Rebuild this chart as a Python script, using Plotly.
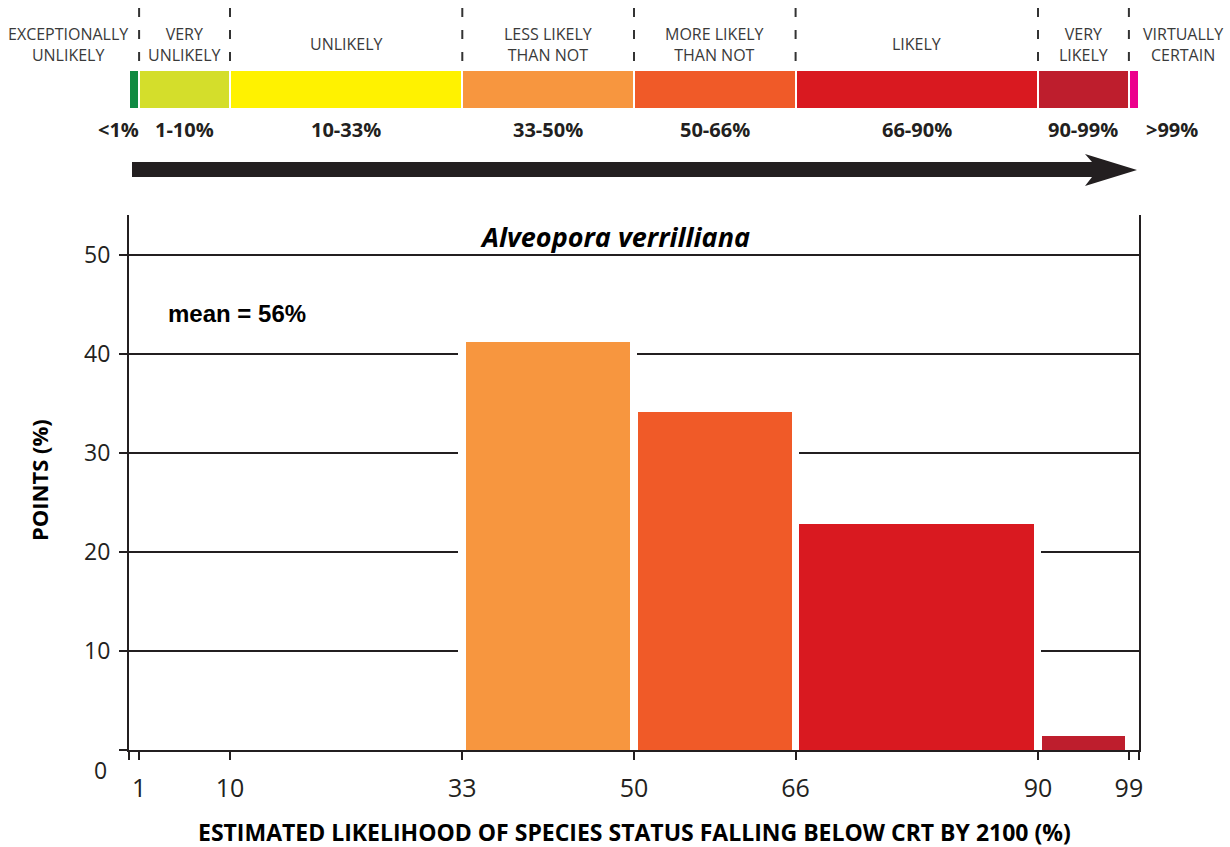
import plotly.graph_objects as go

W, H = 1230, 847

# Likelihood bins (%), their calibrated-language names and colours
bin_edges = [0, 1, 10, 33, 50, 66, 90, 99, 100]
bin_names = ["EXCEPTIONALLY<br>UNLIKELY", "VERY<br>UNLIKELY", "UNLIKELY",
             "LESS LIKELY<br>THAN NOT", "MORE LIKELY<br>THAN NOT", "LIKELY",
             "VERY<br>LIKELY", "VIRTUALLY<br>CERTAIN"]
bin_ranges = ["<1%", "1-10%", "10-33%", "33-50%", "50-66%", "66-90%", "90-99%", ">99%"]
bin_colors = ["#0f8a43", "#d4de2b", "#fff200", "#f7963f",
              "#f05a28", "#d91920", "#be1e2d", "#ec008c"]

# Share of expert points allotted to each bin (%)
points_pct = [0, 0, 0, 41.2, 34.1, 22.8, 1.4, 0]

x_ticks = [1, 10, 33, 50, 66, 90, 99]
y_ticks = [10, 20, 30, 40, 50]
species = "Alveopora verrilliana"
mean_label = "mean = 56%"
x_title = "ESTIMATED LIKELIHOOD OF SPECIES STATUS FALLING BELOW CRT BY 2100 (%)"
y_title = "POINTS (%)"

# ---- page geometry (pixels) ----
PLOT_L, PLOT_R = 129, 1139
Y0_PX, YTOP_PX = 750, 215
Y_MAX = 54
BAR_GAP = 0.7          # visible white gap between neighbouring bars (x units)


def px_to_paper_x(px):
    return (px - PLOT_L) / (PLOT_R - PLOT_L)


def px_to_x(px):
    return px_to_paper_x(px) * 100


def py_to_paper(py):
    return (H - py) / H


widths = [b - a for a, b in zip(bin_edges[:-1], bin_edges[1:])]
mids = [(a + b) / 2 for a, b in zip(bin_edges[:-1], bin_edges[1:])]

INK = "#231f20"
FONT = "Open Sans"

fig = go.Figure()

# White halo behind each bar so the grid lines stop short of the bars
fig.add_trace(go.Bar(
    x=mids, y=points_pct, width=widths,
    marker=dict(color="white",
                line=dict(color="white", width=[7 if v > 0 else 0 for v in points_pct])),
    xaxis="x", yaxis="y", showlegend=False, hoverinfo="skip",
))

# Main histogram of points
fig.add_trace(go.Bar(
    x=mids, y=points_pct, width=[w - BAR_GAP if w > 2 else w for w in widths],
    marker=dict(color=bin_colors, line=dict(width=0)),
    xaxis="x", yaxis="y", showlegend=False, hoverinfo="x+y",
))

# Colour key band above the plot (horizontal stacked segments)
fig.add_trace(go.Bar(
    y=[0] * len(widths), x=widths, base=bin_edges[:-1], orientation="h",
    width=1, marker=dict(color=bin_colors, line=dict(color="white", width=2)),
    xaxis="x", yaxis="y2", showlegend=False, hoverinfo="skip",
))

fig.update_layout(
    width=W, height=H,
    margin=dict(l=PLOT_L, r=W - PLOT_R, t=0, b=0),
    paper_bgcolor="white", plot_bgcolor="white",
    font=dict(family=FONT, color=INK),
    barmode="overlay", bargap=0,
    xaxis=dict(
        range=[0, 100], showgrid=False, zeroline=False,
        showline=True, linecolor=INK, linewidth=2,
        ticks="outside", ticklen=8, tickwidth=2, tickcolor=INK,
        tickvals=[0] + x_ticks + [100],
        ticktext=[""] + [str(t) for t in x_ticks] + [""],
        tickfont=dict(size=25, family=FONT, color=INK),
        ticklabelstandoff=7,
        anchor="y",
    ),
    yaxis=dict(
        domain=[py_to_paper(Y0_PX), py_to_paper(YTOP_PX)],
        range=[0, Y_MAX], zeroline=False,
        showline=True, linecolor=INK, linewidth=2, mirror=True,
        showgrid=True, gridcolor=INK, gridwidth=2,
        ticks="outside", ticklen=8, tickwidth=2, tickcolor=INK,
        tickvals=[0] + y_ticks, ticktext=[""] + [str(t) for t in y_ticks],
        tickfont=dict(size=23, family=FONT, color=INK),
        ticklabelstandoff=4,
        anchor="x",
    ),
    yaxis2=dict(
        domain=[py_to_paper(109), py_to_paper(70)],
        range=[-0.5, 0.5], visible=False, anchor="x", fixedrange=True,
    ),
)

annotations = []
shapes = []

# Dashed separators between categories in the key
for e in bin_edges[1:-1]:
    shapes.append(dict(type="line", xref="x", yref="paper",
                       x0=e, x1=e, y0=py_to_paper(8), y1=py_to_paper(70),
                       line=dict(color="#333333", width=2, dash="9px,13px")))

# Category names
name_x = [m / 100 for m in mids]
name_x[0] = px_to_paper_x(68)
name_x[-1] = px_to_paper_x(1183)
for nx, name in zip(name_x, bin_names):
    annotations.append(dict(x=nx, y=py_to_paper(44), xref="paper", yref="paper",
                            text=name, showarrow=False, xanchor="center", yanchor="middle",
                            font=dict(size=16, family=FONT, color="#3a3a3a")))

# Percentage ranges under the key
range_x = [m / 100 for m in mids]
range_x[0] = px_to_paper_x(118)
range_x[-1] = px_to_paper_x(1172)
for rx, rng in zip(range_x, bin_ranges):
    annotations.append(dict(x=rx, y=py_to_paper(130), xref="paper", yref="paper",
                            text="<b>" + rng + "</b>", showarrow=False,
                            xanchor="center", yanchor="middle",
                            font=dict(size=20, family=FONT, color=INK)))

# Direction arrow
ay_top, ay_bot, ah_top, ah_bot, ay_mid = 162, 177, 154, 186, 170
ax0, ax_neck, ax_base, ax_tip = 132, 1092, 1085, 1137
path = (f"M {px_to_x(ax0)},{py_to_paper(ay_top)} "
        f"L {px_to_x(ax_neck)},{py_to_paper(ay_top)} "
        f"L {px_to_x(ax_base)},{py_to_paper(ah_top)} "
        f"L {px_to_x(ax_tip)},{py_to_paper(ay_mid)} "
        f"L {px_to_x(ax_base)},{py_to_paper(ah_bot)} "
        f"L {px_to_x(ax_neck)},{py_to_paper(ay_bot)} "
        f"L {px_to_x(ax0)},{py_to_paper(ay_bot)} Z")
shapes.append(dict(type="path", xref="x", yref="paper", path=path,
                   fillcolor=INK, line=dict(width=0)))

# Species title
annotations.append(dict(x=px_to_paper_x(615), y=py_to_paper(236), xref="paper", yref="paper",
                        text="<b><i>" + species + "</i></b>", showarrow=False,
                        xanchor="center", yanchor="middle",
                        font=dict(size=27, family=FONT, color="black")))

# Mean label
annotations.append(dict(x=px_to_paper_x(166), y=py_to_paper(313), xref="paper", yref="paper",
                        text="<b>" + mean_label + "</b>", showarrow=False,
                        xanchor="left", yanchor="middle",
                        font=dict(size=24, family="Liberation Sans", color="black")))

# Offset zero label on the y axis
annotations.append(dict(x=px_to_paper_x(109), y=py_to_paper(770), xref="paper", yref="paper",
                        text="0", showarrow=False, xanchor="right", yanchor="middle",
                        font=dict(size=23, family=FONT, color=INK)))

# Axis titles
annotations.append(dict(x=px_to_paper_x(634), y=py_to_paper(832), xref="paper", yref="paper",
                        text="<b>" + x_title + "</b>", showarrow=False,
                        xanchor="center", yanchor="middle",
                        font=dict(size=23, family=FONT, color="black")))
annotations.append(dict(x=px_to_paper_x(39), y=py_to_paper(480), xref="paper", yref="paper",
                        text="<b>" + y_title + "</b>", showarrow=False, textangle=-90,
                        xanchor="center", yanchor="middle",
                        font=dict(size=22, family=FONT, color="black")))

fig.update_layout(annotations=annotations, shapes=shapes)

fig.write_html("out.html")
